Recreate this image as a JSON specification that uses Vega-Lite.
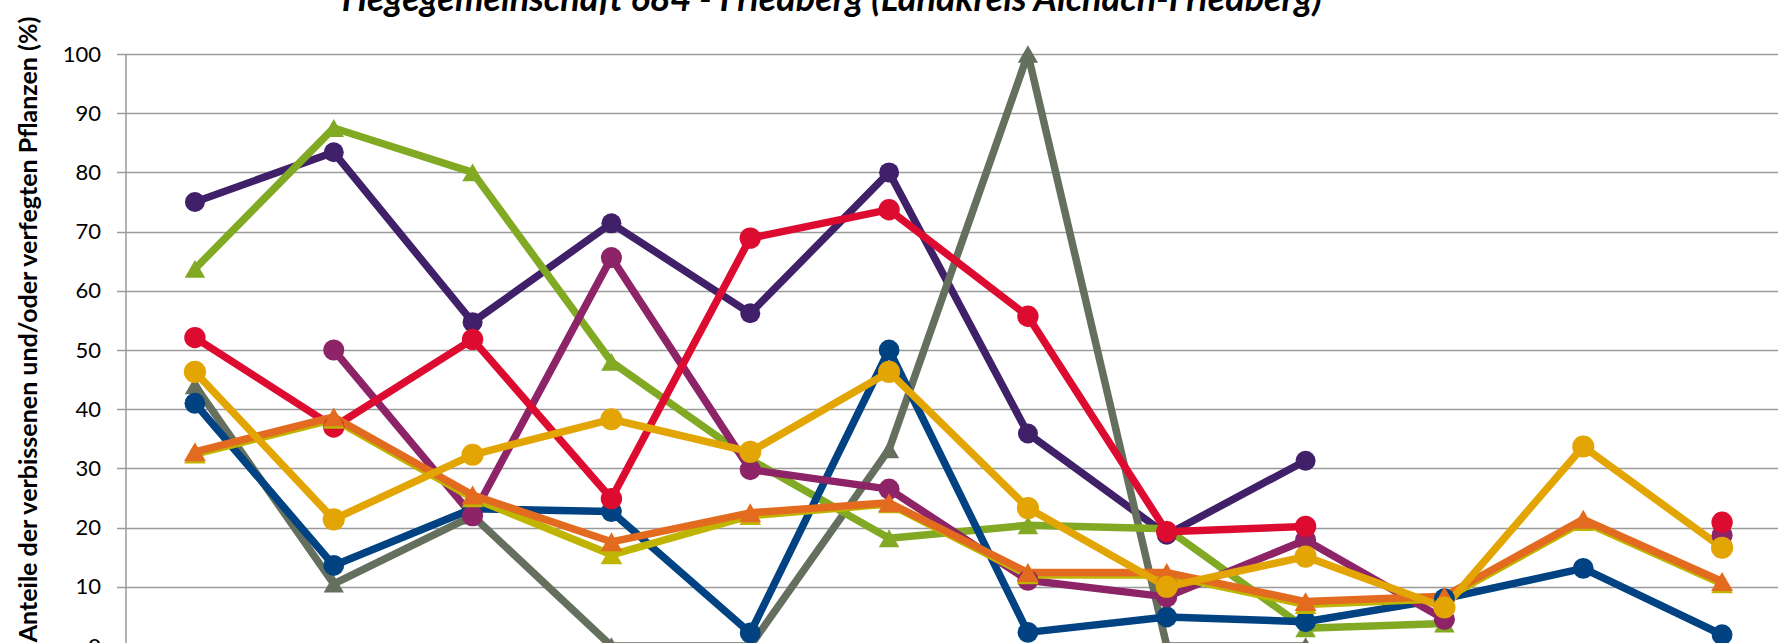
{
  "$schema": "https://vega.github.io/schema/vega-lite/v6.json",
  "autosize": "none",
  "padding": {"left": 125.5, "top": 54, "right": 0, "bottom": 0},
  "width": 1652.5,
  "height": 589,
  "background": "white",
  "title": {
    "text": "Hegegemeinschaft 684 - Friedberg (Landkreis Aichach-Friedberg)",
    "font": "Lato",
    "fontSize": 36,
    "fontWeight": "bold",
    "fontStyle": "italic",
    "color": "#000000",
    "anchor": "middle",
    "frame": "group",
    "baseline": "alphabetic",
    "offset": 0,
    "dy": 32,
    "dx": -120
  },
  "config": {
    "view": {"stroke": null},
    "font": "Lato"
  },
  "data": {
    "values": [
      {"jahr": "1991", "serie": "Edellaubholz", "wert": 75.0},
      {"jahr": "1994", "serie": "Edellaubholz", "wert": 83.4},
      {"jahr": "1997", "serie": "Edellaubholz", "wert": 54.7},
      {"jahr": "2000", "serie": "Edellaubholz", "wert": 71.4},
      {"jahr": "2003", "serie": "Edellaubholz", "wert": 56.2},
      {"jahr": "2006", "serie": "Edellaubholz", "wert": 80.0},
      {"jahr": "2009", "serie": "Edellaubholz", "wert": 35.9},
      {"jahr": "2012", "serie": "Edellaubholz", "wert": 18.8},
      {"jahr": "2015", "serie": "Edellaubholz", "wert": 31.3},
      {"jahr": "2018", "serie": "Edellaubholz", "wert": null},
      {"jahr": "2021", "serie": "Edellaubholz", "wert": null},
      {"jahr": "2024", "serie": "Edellaubholz", "wert": null},

      {"jahr": "1991", "serie": "Tanne", "wert": 44.0},
      {"jahr": "1994", "serie": "Tanne", "wert": 10.5},
      {"jahr": "1997", "serie": "Tanne", "wert": 22.0},
      {"jahr": "2000", "serie": "Tanne", "wert": 0},
      {"jahr": "2003", "serie": "Tanne", "wert": 0},
      {"jahr": "2006", "serie": "Tanne", "wert": 33.2},
      {"jahr": "2009", "serie": "Tanne", "wert": 100},
      {"jahr": "2012", "serie": "Tanne", "wert": 0},
      {"jahr": "2015", "serie": "Tanne", "wert": 0},
      {"jahr": "2018", "serie": "Tanne", "wert": null},
      {"jahr": "2021", "serie": "Tanne", "wert": null},
      {"jahr": "2024", "serie": "Tanne", "wert": null},

      {"jahr": "1991", "serie": "Laubholz", "wert": 63.7},
      {"jahr": "1994", "serie": "Laubholz", "wert": 87.5},
      {"jahr": "1997", "serie": "Laubholz", "wert": 80.0},
      {"jahr": "2000", "serie": "Laubholz", "wert": 48.0},
      {"jahr": "2003", "serie": "Laubholz", "wert": 31.5},
      {"jahr": "2006", "serie": "Laubholz", "wert": 18.2},
      {"jahr": "2009", "serie": "Laubholz", "wert": 20.4},
      {"jahr": "2012", "serie": "Laubholz", "wert": 19.8},
      {"jahr": "2015", "serie": "Laubholz", "wert": 3.0},
      {"jahr": "2018", "serie": "Laubholz", "wert": 3.8},
      {"jahr": "2021", "serie": "Laubholz", "wert": null},
      {"jahr": "2024", "serie": "Laubholz", "wert": 18.8},

      {"jahr": "1991", "serie": "Fichte", "wert": 41.0},
      {"jahr": "1994", "serie": "Fichte", "wert": 13.6},
      {"jahr": "1997", "serie": "Fichte", "wert": 23.2},
      {"jahr": "2000", "serie": "Fichte", "wert": 22.7},
      {"jahr": "2003", "serie": "Fichte", "wert": 2.2},
      {"jahr": "2006", "serie": "Fichte", "wert": 50.0},
      {"jahr": "2009", "serie": "Fichte", "wert": 2.3},
      {"jahr": "2012", "serie": "Fichte", "wert": 4.9},
      {"jahr": "2015", "serie": "Fichte", "wert": 4.1},
      {"jahr": "2018", "serie": "Fichte", "wert": 8.0},
      {"jahr": "2021", "serie": "Fichte", "wert": 13.1},
      {"jahr": "2024", "serie": "Fichte", "wert": 1.9},

      {"jahr": "1991", "serie": "Sonstiges Laubholz", "wert": null},
      {"jahr": "1994", "serie": "Sonstiges Laubholz", "wert": 50.0},
      {"jahr": "1997", "serie": "Sonstiges Laubholz", "wert": 22.0},
      {"jahr": "2000", "serie": "Sonstiges Laubholz", "wert": 65.6},
      {"jahr": "2003", "serie": "Sonstiges Laubholz", "wert": 29.8},
      {"jahr": "2006", "serie": "Sonstiges Laubholz", "wert": 26.5},
      {"jahr": "2009", "serie": "Sonstiges Laubholz", "wert": 11.1},
      {"jahr": "2012", "serie": "Sonstiges Laubholz", "wert": 8.3},
      {"jahr": "2015", "serie": "Sonstiges Laubholz", "wert": 17.9},
      {"jahr": "2018", "serie": "Sonstiges Laubholz", "wert": 4.5},
      {"jahr": "2021", "serie": "Sonstiges Laubholz", "wert": null},
      {"jahr": "2024", "serie": "Sonstiges Laubholz", "wert": 18.7},

      {"jahr": "1991", "serie": "Eiche", "wert": 52.1},
      {"jahr": "1994", "serie": "Eiche", "wert": 37.0},
      {"jahr": "1997", "serie": "Eiche", "wert": 51.8},
      {"jahr": "2000", "serie": "Eiche", "wert": 24.9},
      {"jahr": "2003", "serie": "Eiche", "wert": 68.9},
      {"jahr": "2006", "serie": "Eiche", "wert": 73.7},
      {"jahr": "2009", "serie": "Eiche", "wert": 55.7},
      {"jahr": "2012", "serie": "Eiche", "wert": 19.3},
      {"jahr": "2015", "serie": "Eiche", "wert": 20.2},
      {"jahr": "2018", "serie": "Eiche", "wert": null},
      {"jahr": "2021", "serie": "Eiche", "wert": null},
      {"jahr": "2024", "serie": "Eiche", "wert": 20.9},

      {"jahr": "1991", "serie": "Nadelholz", "wert": 32.4},
      {"jahr": "1994", "serie": "Nadelholz", "wert": 38.3},
      {"jahr": "1997", "serie": "Nadelholz", "wert": 25.0},
      {"jahr": "2000", "serie": "Nadelholz", "wert": 15.4},
      {"jahr": "2003", "serie": "Nadelholz", "wert": 22.0},
      {"jahr": "2006", "serie": "Nadelholz", "wert": 24.0},
      {"jahr": "2009", "serie": "Nadelholz", "wert": 12.0},
      {"jahr": "2012", "serie": "Nadelholz", "wert": 12.0},
      {"jahr": "2015", "serie": "Nadelholz", "wert": 7.0},
      {"jahr": "2018", "serie": "Nadelholz", "wert": 8.0},
      {"jahr": "2021", "serie": "Nadelholz", "wert": 21.0},
      {"jahr": "2024", "serie": "Nadelholz", "wert": 10.5},

      {"jahr": "1991", "serie": "Alle Baumarten", "wert": 32.8},
      {"jahr": "1994", "serie": "Alle Baumarten", "wert": 38.7},
      {"jahr": "1997", "serie": "Alle Baumarten", "wert": 25.5},
      {"jahr": "2000", "serie": "Alle Baumarten", "wert": 17.6},
      {"jahr": "2003", "serie": "Alle Baumarten", "wert": 22.5},
      {"jahr": "2006", "serie": "Alle Baumarten", "wert": 24.2},
      {"jahr": "2009", "serie": "Alle Baumarten", "wert": 12.4},
      {"jahr": "2012", "serie": "Alle Baumarten", "wert": 12.4},
      {"jahr": "2015", "serie": "Alle Baumarten", "wert": 7.5},
      {"jahr": "2018", "serie": "Alle Baumarten", "wert": 8.4},
      {"jahr": "2021", "serie": "Alle Baumarten", "wert": 21.4},
      {"jahr": "2024", "serie": "Alle Baumarten", "wert": 10.9},

      {"jahr": "1991", "serie": "Buche", "wert": 46.3},
      {"jahr": "1994", "serie": "Buche", "wert": 21.4},
      {"jahr": "1997", "serie": "Buche", "wert": 32.3},
      {"jahr": "2000", "serie": "Buche", "wert": 38.3},
      {"jahr": "2003", "serie": "Buche", "wert": 32.8},
      {"jahr": "2006", "serie": "Buche", "wert": 46.3},
      {"jahr": "2009", "serie": "Buche", "wert": 23.3},
      {"jahr": "2012", "serie": "Buche", "wert": 10.0},
      {"jahr": "2015", "serie": "Buche", "wert": 15.1},
      {"jahr": "2018", "serie": "Buche", "wert": 6.5},
      {"jahr": "2021", "serie": "Buche", "wert": 33.7},
      {"jahr": "2024", "serie": "Buche", "wert": 16.6}
    ]
  },
  "encoding": {
    "x": {
      "field": "jahr",
      "type": "ordinal",
      "sort": null,
      "scale": {"type": "point", "padding": 0.5, "range": [0, 1666]},
      "axis": null
    },
    "y": {
      "field": "wert",
      "type": "quantitative",
      "scale": {"domain": [0, 100], "range": [592, 0], "nice": false, "zero": true},
      "axis": {
        "values": [0, 10, 20, 30, 40, 50, 60, 70, 80, 90, 100],
        "title": "Anteile der verbissenen und/oder verfegten Pflanzen (%)",
        "titleFont": "Lato",
        "titleFontSize": 25,
        "titleFontWeight": "bold",
        "titleColor": "#000000",
        "titleAngle": -90,
        "titleAlign": "center",
        "titleBaseline": "alphabetic",
        "titleX": -89.5,
        "titleY": 275,
        "labelFont": "Lato",
        "labelFontSize": 22,
        "labelColor": "#000000",
        "labelPadding": 16,
        "labelBaseline": "middle",
        "tickSize": 9,
        "tickColor": "#9a9a9a",
        "tickWidth": 1.5,
        "domainColor": "#9a9a9a",
        "domainWidth": 1.5,
        "grid": true,
        "gridColor": "#9a9a9a",
        "gridWidth": 1.5
      }
    },
    "color": {
      "field": "serie",
      "type": "nominal",
      "scale": {
        "domain": ["Edellaubholz", "Tanne", "Laubholz", "Fichte", "Sonstiges Laubholz", "Eiche", "Nadelholz", "Alle Baumarten", "Buche"],
        "range": ["#3F2069", "#646F5E", "#82A923", "#004282", "#8D2468", "#DD0B30", "#BFB500", "#E36B1F", "#E3A503"]
      },
      "legend": null
    }
  },
  "layer": [
    {
      "mark": {"type": "line", "strokeWidth": 7.5, "invalid": "break-paths-show-domains", "strokeJoin": "round", "strokeCap": "butt"}
    },
    {
      "mark": {"type": "point", "filled": true, "opacity": 1, "invalid": "filter"},
      "encoding": {
        "shape": {
          "field": "serie",
          "type": "nominal",
          "scale": {
            "domain": ["Edellaubholz", "Tanne", "Laubholz", "Fichte", "Sonstiges Laubholz", "Eiche", "Nadelholz", "Alle Baumarten", "Buche"],
            "range": ["circle", "triangle-up", "triangle-up", "circle", "circle", "circle", "triangle-up", "triangle-up", "circle"]
          },
          "legend": null
        },
        "size": {
          "field": "serie",
          "type": "nominal",
          "scale": {
            "domain": ["Edellaubholz", "Tanne", "Laubholz", "Fichte", "Sonstiges Laubholz", "Eiche", "Nadelholz", "Alle Baumarten", "Buche"],
            "range": [400, 490, 490, 400, 400, 400, 490, 490, 400]
          },
          "legend": null
        }
      }
    }
  ]
}
